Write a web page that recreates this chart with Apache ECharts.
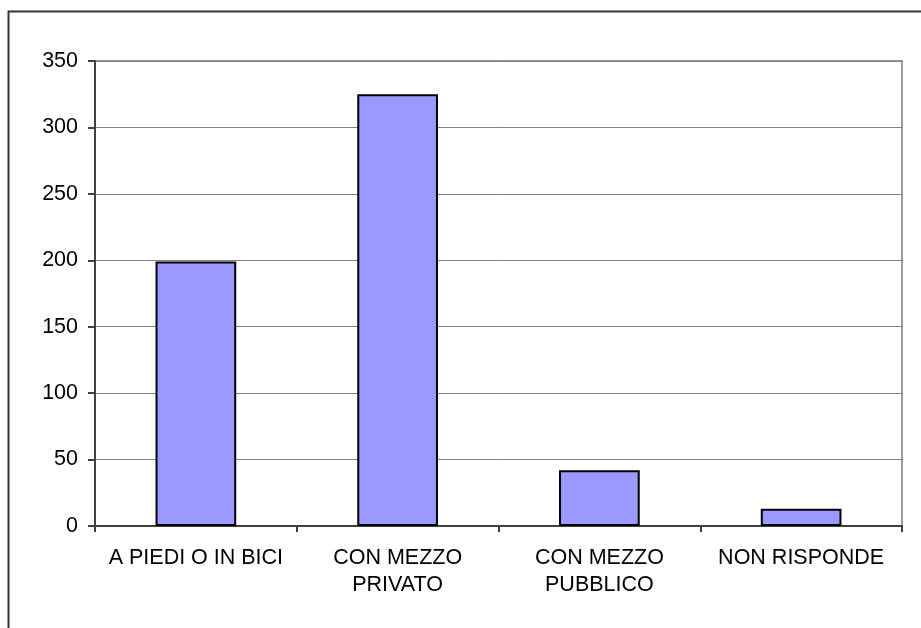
<!DOCTYPE html>
<html>
<head>
<meta charset="utf-8">
<script src="https://cdn.jsdelivr.net/npm/echarts@6/dist/echarts.min.js"></script>
<style>
  html, body { margin: 0; padding: 0; background: #fff; }
  #chart { width: 921px; height: 628px; }
</style>
</head>
<body>
<div id="chart"></div>
<script>
// Modalità di spostamento: numero di risposte per categoria
const categories = ['A PIEDI O IN BICI', 'CON MEZZO\nPRIVATO', 'CON MEZZO\nPUBBLICO', 'NON RISPONDE'];
const values = [199, 325, 42, 13];
const yTicks = { min: 0, max: 350, interval: 50 };

const chart = echarts.init(document.getElementById('chart'));
const font = 'Liberation Sans, Arial, sans-serif';

chart.setOption({
  animation: false,
  backgroundColor: '#fff',
  graphic: [{
    type: 'rect',
    shape: { x: 8.5, y: 11.5, width: 1000, height: 1000 },
    style: { fill: null, stroke: '#333', lineWidth: 2 },
    silent: true
  }],
  grid: {
    left: 95, right: 19, top: 61, bottom: 102,
    show: true, borderColor: '#999', borderWidth: 2, backgroundColor: 'transparent'
  },
  xAxis: {
    type: 'category',
    data: categories,
    boundaryGap: true,
    axisLine: { lineStyle: { color: '#404040', width: 2 } },
    axisTick: { show: true, length: 6, lineStyle: { color: '#404040', width: 2 } },
    axisLabel: {
      color: '#000', fontFamily: font, fontSize: 21.5, lineHeight: 27,
      margin: 19, interval: 0, align: 'center'
    }
  },
  yAxis: {
    type: 'value',
    min: yTicks.min, max: yTicks.max, interval: yTicks.interval,
    axisLine: { show: true, lineStyle: { color: '#404040', width: 2 } },
    axisTick: { show: true, length: 7, lineStyle: { color: '#404040', width: 2 } },
    axisLabel: { color: '#000', fontFamily: font, fontSize: 21.5, margin: 17 },
    splitLine: { show: true, lineStyle: { color: '#808080', width: 1 } }
  },
  series: [{
    type: 'bar',
    data: values,
    barWidth: '40%',
    itemStyle: { color: '#9999FF', borderColor: '#000', borderWidth: 2 }
  }]
});
</script>
</body>
</html>
